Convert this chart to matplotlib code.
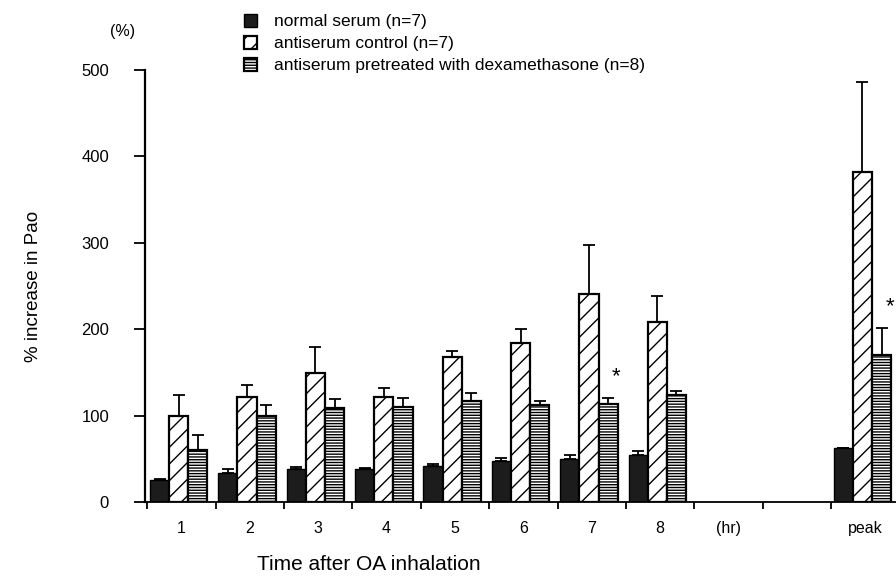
import numpy as np
import matplotlib
matplotlib.use("Agg")
import matplotlib.pyplot as plt

plt.rcParams["font.family"] = ["Liberation Sans", "DejaVu Sans"]
plt.rcParams["hatch.linewidth"] = 1.0

# data
groups = ["1", "2", "3", "4", "5", "6", "7", "8", "peak"]
slots = [0, 1, 2, 3, 4, 5, 6, 7, 10]

normal = [26, 34, 38, 38, 42, 47, 50, 54, 62]
normal_err = [1, 4, 3, 1, 2, 4, 4, 5, 1]
control = [99, 121, 149, 121, 168, 184, 241, 208, 382]
control_err = [25, 14, 30, 11, 7, 16, 56, 30, 104]
dexa = [60, 99, 109, 110, 117, 112, 113, 124, 170]
dexa_err = [17, 13, 10, 10, 9, 5, 7, 4, 31]
significant = [False, False, False, False, False, False, True, False, True]

labels = ["normal serum (n=7)", "antiserum control (n=7)",
          "antiserum pretreated with dexamethasone (n=8)"]

fig = plt.figure(figsize=(8.96, 5.79), dpi=100)
ax = fig.add_axes([0.162, 0.133, 0.838, 0.746])

x = np.array(slots, dtype=float)
w = 0.28
off = 0.04
ekw = dict(elinewidth=1.3, capthick=1.3, ecolor="black")

b1 = ax.bar(x + off, normal, w, align="edge", color="#1c1c1c", edgecolor="black", lw=1)
ax.errorbar(x + off + w / 2, normal, yerr=[np.zeros(len(normal)), normal_err],
            fmt="none", capsize=4, **ekw)
b2 = ax.bar(x + off + w, control, w, align="edge", color="white", edgecolor="black",
            lw=1.6, hatch="//")
ax.errorbar(x + off + 1.5 * w, control, yerr=[np.zeros(len(control)), control_err],
            fmt="none", capsize=4, **ekw)
b3 = ax.bar(x + off + 2 * w, dexa, w, align="edge", color="white", edgecolor="black",
            lw=1.6, hatch="------")
ax.errorbar(x + off + 2.5 * w, dexa, yerr=[np.zeros(len(dexa)), dexa_err],
            fmt="none", capsize=4, **ekw)

for i in range(len(groups)):
    if significant[i]:
        ax.text(x[i] + off + 2.5 * w + 0.12, dexa[i] + dexa_err[i] + 25, "*",
                ha="center", va="center", fontsize=16)

ax.set_ylim(0, 500)
ax.set_xlim(-0.03, 10.95)
ax.set_yticks([0, 100, 200, 300, 400, 500])
ax.set_xticks(np.arange(0, 11))
ax.set_xticklabels([])
ax.tick_params(axis="x", direction="out", length=5, width=1.3)
ax.tick_params(axis="y", direction="out", length=8, width=1.3, labelsize=12, pad=18)

for i, g in enumerate(groups):
    ax.text(x[i] + 0.5, -31, g, ha="center", va="center", fontsize=11.5)
ax.text(8.5, -31, "(hr)", ha="center", va="center", fontsize=11.5)

ax.spines["top"].set_visible(False)
ax.spines["right"].set_visible(False)
ax.spines["left"].set_linewidth(1.6)
ax.spines["bottom"].set_linewidth(1.3)

ax.set_ylabel("% increase in Pao", fontsize=13.5, labelpad=28)
fig.text(0.412, 0.015, "Time after OA inhalation", ha="center", fontsize=15)
fig.text(0.137, 0.945, "(%)", ha="center", va="center", fontsize=11.5)

fig.legend([b1, b2, b3], labels, loc="upper left", bbox_to_anchor=(0.255, 1.003),
           frameon=False, fontsize=12.5, handlelength=0.75, handleheight=0.75,
           handletextpad=1.0, labelspacing=0.38)

fig.savefig("out.png", dpi=100)
